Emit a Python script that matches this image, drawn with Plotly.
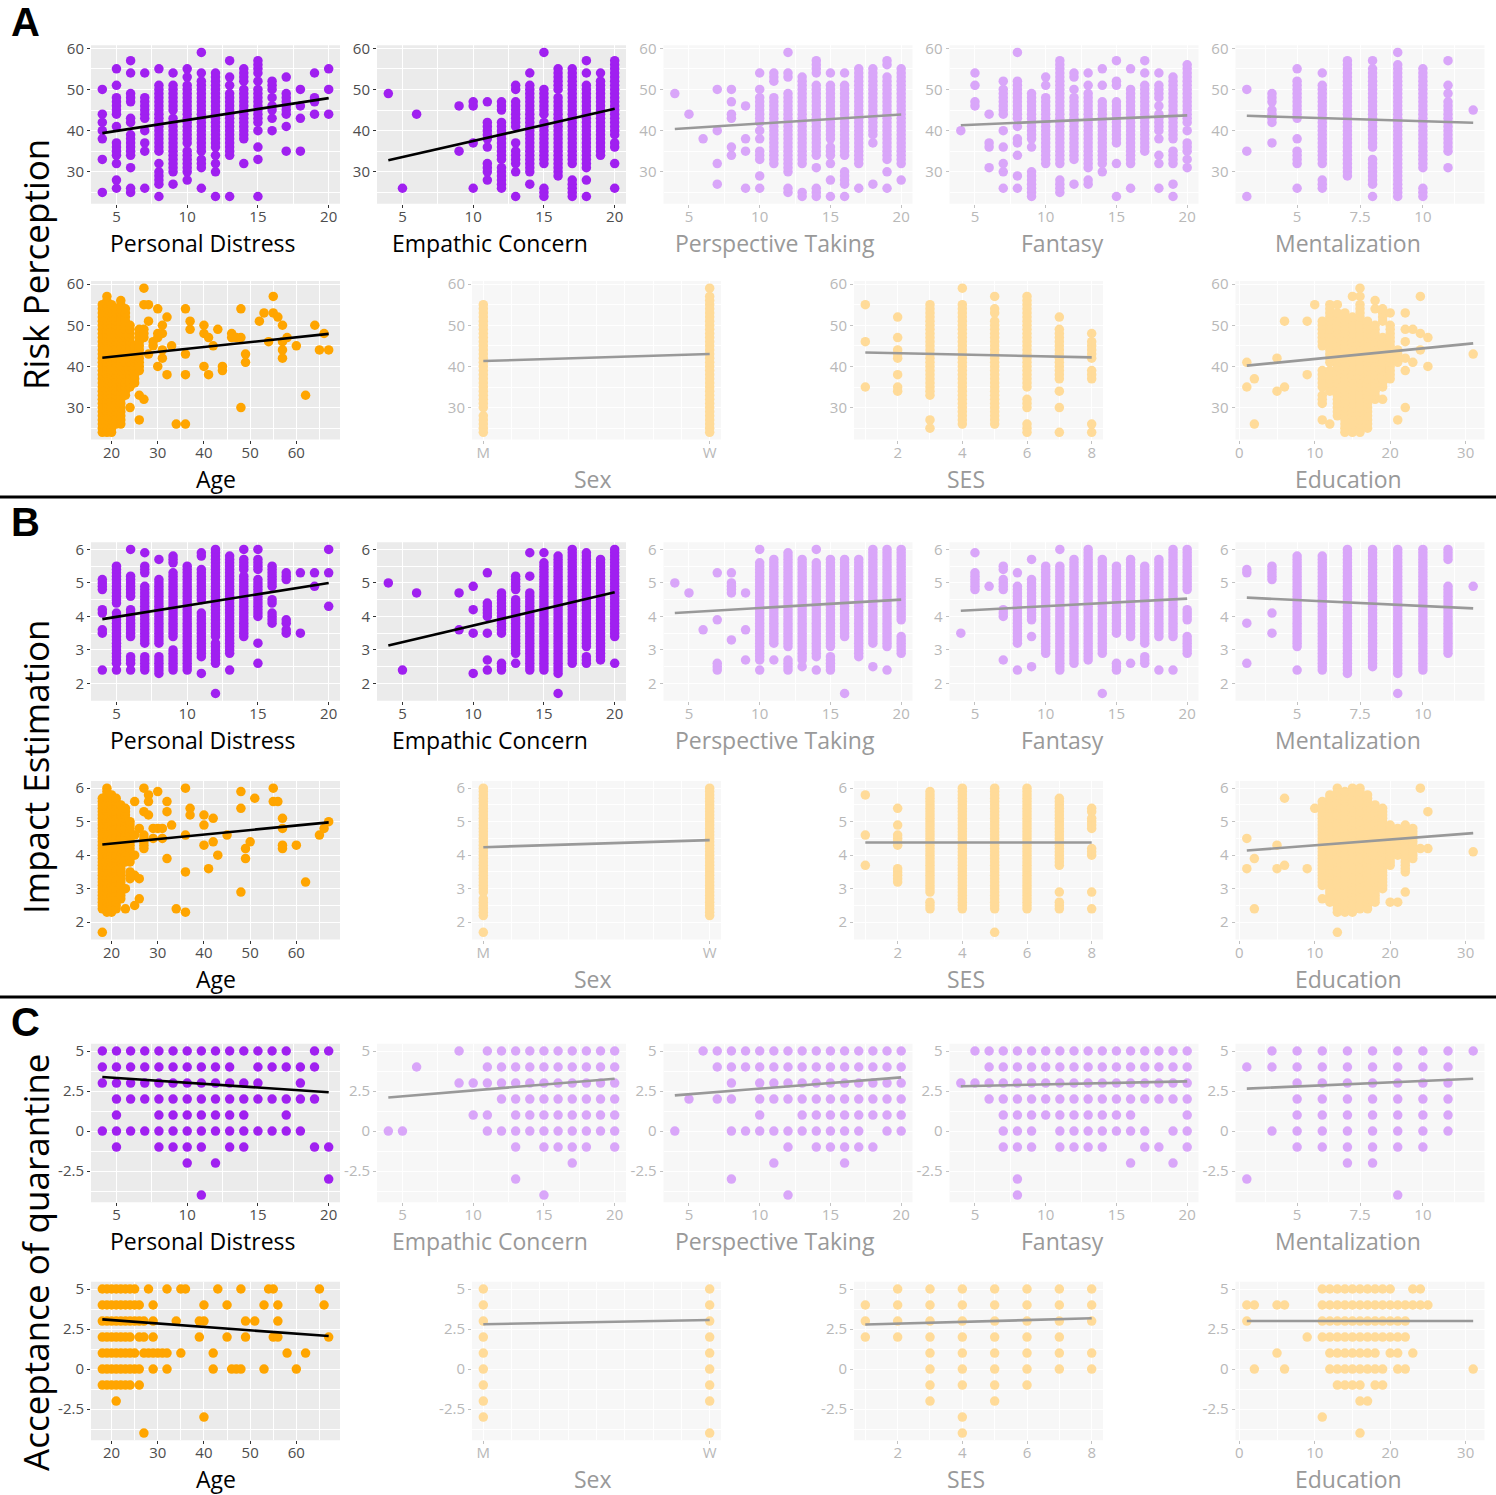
import numpy as np
import plotly.graph_objects as go

W, H = 1496, 1495

# ---------------- labels ----------------
OUTCOMES = ["Risk Perception", "Impact Estimation", "Acceptance of quarantine"]
SECTION_LETTERS = ["A", "B", "C"]
ROW1_VARS = ["Personal Distress", "Empathic Concern", "Perspective Taking", "Fantasy", "Mentalization"]
ROW2_VARS = ["Age", "Sex", "SES", "Education"]
SEX_LABELS = ["M", "W"]

# ---------------- data ----------------
# column format  "x:y,y1-y2;..." (y1-y2 = every observed value in that run)
RP_PD = "4:25,33,38,40,42,44,50;5:26,28,32,34-37,41,44-48,51,55;6:25-26,31,34-39,42-43,47-49,54,57;7:26,35,37,40,43-48,54;8:24,27-30,32,35-51,55;9:27,30-43,45-51,54;10:28,30-35,37-51,53,55;11:26,31-33,35-52,54,59;12:24,30,32,34,36-54;13:24,34-49,51,53,57;14:32,38-50,52-55;15:24,33,36,40,42-50,52,54-57;16:40,43,45-46,48,50-52;17:35,41,44-49,53;18:35,43,46,50;19:44,47-48,54;20:44,50,55"
RP_EC = "4:49;5:26;6:44;9:35,46;10:26,37,46-47;11:28,30-32,36,38-42,47;12:26-31,33-42,45-47;13:24,30,32-35,37,41-47,50-51;14:27,30-51,54;15:24-26,32-42,44-50,59;16:29-48,50-55;17:24-28,32-55;18:24,28,31-51,54,57;19:34-52,54;20:26,32,36-37,39-57"
RP_PT = "4:49;5:44;6:38;7:27,32,40,50;8:34,36,43-44,47,50;9:26,35,38,46;10:26,29,33-35,38,40,42-48,50,54;11:32-48,52-54;12:25-26,30-49,53-54,59;13:24-25,32-53;14:24-26,31,34-51,54-57;15:24,28,32,34-36,38-51,54;16:24,27-30,34-51,54;17:26,32-55;18:27,37,39-55;19:26,30,33-53,56-57;20:28,32-55"
RP_FA = "4:40;5:46-47,51,54;6:31,36-37,44;7:26,30,32,36,40,44-50,52;8:26,29,34,37-38,41,43-52,59;9:24-30,36,38-49;10:32-48,51,53;11:25-28,32-57;12:27,33-48,50,53-54;13:27-28,31-49,51,54;14:30,32-47,51,55;15:24,32,37-47,51-52,57;16:26,32-50,55;17:35-51,54,57;18:26,32,34,38,40-44,46,48-51,54;19:24,27,32-35,38-53;20:31,33,35-37,40,42-56"
RP_ME = "3:24,35,50;4:37,42-45,47-49;5:26,32-35,38,43-52,55;6:26-28,32-51,54;7:29-57;8:24,27-33,36-55,57;9:24-56,59;10:24-26,31-55;11:31,35-47,49,51,57;12:45"
RP_AGE = "18:24-55;19:24-57;20:24-55;21:26-54;22:26-56;23:33-54;24:30,35-50;25:36-45;26:27,33,39-49;27:32,47-49,55,59;28:43,51,55;29:45-46;30:40,47-48,54;31:42,44,48,50;32:38,52;33:45;34:26;36:26,38,43,54;37:49,51;40:40,48,50;41:38,47;42:45;43:49;44:39-40;46:47-48;47:47;48:30,47,54;49:41,43;52:51;53:53;54:46;55:53,57;56:52;57:42,44,46,50;58:47;60:45;62:33;64:50;65:44;66:48;67:44"
RP_SEX = "1:24-28,30-55;2:24-57,59"
RP_SES = "1:35,46,55;2:34-35,38,42-44,47,52;3:25,27,33-55;4:26-55,59;5:26-51,53-54,57;6:24-26,30-32,35-57;7:24,30,34,37-49,52;8:24,26,37-39,42-46,48"
RP_EDU = "1:35,41;2:26,37;5:34,42;6:35,51;9:38,51;10:55;11:27,31-33,35-39,45-51;12:26,34-39,41-55;13:28-53,55;14:24-53;15:24-52,57;16:24-55,57,59;17:25-51;18:32-50,54,56;19:32,35-47,51-54;20:37-50,53;21:27,41-44;22:30,39,42,46,49,53;23:41,49;24:44,48,57;25:40,47;31:43"

IE_PD = "4:2.4,3.5-3.6,4.1-4.2,4.8-5.1;5:2.4,2.6-4.1,4.4-5.5;6:2.4,2.6-2.8,3.4-4.2,4.6-5.2,6.0;7:2.4-2.8,3.2-4.9,5.3-5.5,5.9;8:2.3-2.8,3.2-5.1,5.7;9:2.4-3.0,3.4-5.3,5.6-5.8;10:2.4-5.5;11:2.3,2.8-4.1,4.5-5.4,5.8-5.9;12:1.7,2.6-3.2,3.4-6.0;13:2.4,2.9-5.8;14:3.4-5.2,5.4-5.7,6.0;15:2.6,3.2,4.0-5.1,5.4-5.7,6.0;16:3.8-4.1,4.4-4.5,4.9-5.5;17:3.5-3.6,3.8-3.9,5.1-5.3;18:3.5,5.3;19:4.9,5.3;20:4.3,5.3,6.0"
IE_EC = "4:5.0;5:2.4;6:4.7;9:3.6,4.7;10:2.3,3.5,4.2,4.9;11:2.4,2.7,3.5,4.0-4.4,5.3;12:2.4-2.6,3.5-4.7;13:2.6,2.9-4.5,4.8-5.2;14:2.4-4.7,5.2,5.9;15:2.4-5.6,5.9;16:1.7,2.3-5.8;17:2.6-6.0;18:2.6-2.8,3.1-5.9;19:2.7-5.7;20:2.6,3.4-6.0"
IE_PT = "4:5.0;5:4.7;6:3.6;7:2.4-2.6,3.9,5.3;8:3.3,4.7-5.0,5.3;9:2.7,3.6,4.7;10:2.4,2.7-5.6,6.0;11:2.7,3.2-5.7;12:2.4-2.7,3.1-5.9;13:2.5,2.7-5.7;14:2.4,2.8-5.6,6.0;15:2.4-2.8,3.1-5.7;16:1.7,3.4-5.7;17:2.8-5.7;18:2.5,3.2-6.0;19:2.4,3.1-6.0;20:2.9-3.4,3.9-6.0"
IE_FA = "4:3.5;5:4.8-5.3,5.9;6:4.9;7:2.7,4.0-4.2,4.8-5.1,5.4-5.5;8:2.4,3.2-4.9,5.3;9:2.5,3.4,3.9-5.1,5.7;10:2.9-5.5;11:2.4-5.5,6.0;12:2.6-5.7;13:2.7-6.0;14:1.7,2.9-5.7;15:2.4-2.6,3.5-5.5;16:2.6,3.4-5.7;17:2.6-2.8,3.2-5.5;18:2.4,3.4-5.7;19:2.4,3.4-6.0;20:2.9-3.4,3.9-4.2,4.8-6.0"
IE_ME = "3:2.6,3.8,5.3-5.4;4:3.5,4.1,5.1-5.5;5:2.4,3.1-5.8;6:2.4-5.8;7:2.3-6.0;8:2.5-6.0;9:1.7,2.3-6.0;10:2.4-6.0;11:2.9-4.9,5.7-6.0;12:4.9"
IE_AGE = "18:1.7,2.4-5.7;19:2.3-6.0;20:2.3-5.8;21:2.4-5.7;22:2.7-5.5;23:2.4,3.0,3.8-5.4;24:3.3-3.5,3.8-5.0;25:2.5,3.4,4.0,4.6,5.6;26:2.7,3.3,4.8;27:4.2-4.6,5.3,6.0;28:5.2,5.6,5.8;29:4.5,4.8;30:4.8,5.9;31:4.5,4.8;32:3.9,5.3,5.6;33:4.9;34:2.4;36:2.3,3.5,4.6,6.0;37:5.2,5.4;40:4.3,4.9,5.2;41:3.6;42:4.4,5.1;43:4.0;45:4.6;48:2.9,5.4,5.9;49:3.9,4.2;50:4.4;51:5.7;55:5.6,6.0;56:5.6;57:4.2,4.3,4.8,5.1;60:4.3;62:3.2;65:4.6;66:4.8;67:5.0"
IE_SEX = "1:1.7,2.2-2.7,2.9-6.0;2:2.2-6.0"
IE_SES = "1:3.7,4.6,5.8;2:3.2-3.6,4.3-4.6,4.9,5.4;3:2.4-2.6,2.9-5.9;4:2.4-6.0;5:1.7,2.4-6.0;6:2.4-6.0;7:2.4-2.6,2.9,3.7-5.7;8:2.4,2.9,4.0-4.2,4.8-5.1,5.3-5.4"
IE_EDU = "1:3.6,4.5;2:2.4,3.9;5:3.6,4.3;6:3.7,5.7;9:3.6;10:5.4;11:2.7,3.1-5.6;12:2.6-5.8;13:1.7,2.3-6.0;14:2.3-5.9;15:2.3-6.0;16:2.4-6.0;17:2.4-5.8;18:2.6-5.5;19:3.0-5.4;20:2.6,3.7-4.9;21:2.6,4.0-4.8;22:2.9,3.5-4.9;23:3.9-4.8;24:4.2,6.0;25:4.2,5.3;31:4.1"

# row format  "y:x,x1-x2;..."
AQ_PD = "5:4-17,19-20;4:4-13,15-19;3:4-15,18;2:5-19;1:5,8-14,17;0:4-18;-1:5,8-11,13-14,19-20;-2:10,12;-3:20;-4:11"
AQ_EC = "5:9,11-20;4:6,11-20;3:9-20;2:12-20;1:10-11,13-20;0:4-5,11-20;-1:13,15-18,20;-2:17;-3:13;-4:15"
AQ_PT = "5:6-20;4:7-20;3:8,10-20;2:5,7-8,10-20;1:10,13-20;0:4,8-17,19-20;-1:12,14-18;-2:11,16;-3:8;-4:12"
AQ_FA = "5:5-20;4:6-20;3:4-20;2:6-20;1:7-16,20;0:7-9,11-17,19-20;-1:7-9,11-14,17-18,20;-2:16,19;-3:8;-4:8"
AQ_ME = "5:4-12;4:3-11;3:5-11;2:5-11;1:5-11;0:4-11;-1:5-10;-2:7-8;-3:3;-4:9"
AQ_AGE = "5:18-25,28,32,35-36,43,48,54-55,65;4:18-26,29,40,45,53,56,66;3:18-27,29,34,39-40,49,51,56;2:18-24,26-27,29,39,45,49,55-56,67;1:18-25,27-32,35,42,58,62;0:18-26,29,32,42,46-48,53,60;-1:18-24,26;-2:21;-3:40;-4:27"
AQ_SEX = "5:1-2;4:1-2;3:1-2;2:1-2;1:1-2;0:1-2;-1:1-2;-2:1-2;-3:1;-4:2"
AQ_SES = "5:2-8;4:1-8;3:1-8;2:1-7;1:3-8;0:3-8;-1:3-6;-2:3,5;-3:4;-4:4"
AQ_EDU = "5:11-20,23-24;4:1-2,5-6,11-25;3:1,11-22;2:9,11-22;1:5,12-18,20-21,23;0:2,6,12-19,21-22,31;-1:13-16,18-19;-2:16-17;-3:11;-4:16"

# fitted line values (at min x, at max x), order: ROW1_VARS + ROW2_VARS
RP_FIT_START = [39.4, 32.8, 40.4, 41.3, 43.6, 42.1, 41.3, 43.4, 40.2]
RP_FIT_END = [47.9, 45.3, 43.9, 43.7, 41.9, 47.9, 43.0, 42.2, 45.6]
IE_FIT_START = [3.92, 3.13, 4.10, 4.17, 4.56, 4.32, 4.24, 4.38, 4.14]
IE_FIT_END = [5.00, 4.72, 4.50, 4.53, 4.24, 4.98, 4.45, 4.38, 4.66]
AQ_FIT_START = [3.38, 2.10, 2.23, 2.80, 2.65, 3.10, 2.80, 2.78, 3.00]
AQ_FIT_END = [2.42, 3.27, 3.35, 3.10, 3.27, 2.06, 3.06, 3.17, 3.00]

# which panels are highlighted (others are faded)
ACTIVE = [
    ["Personal Distress", "Empathic Concern", "Age"],
    ["Personal Distress", "Empathic Concern", "Age"],
    ["Personal Distress", "Age"],
]

# y axis settings per outcome
Y_RANGES = [[22.25, 60.75], [1.485, 6.215], [-4.45, 5.45]]
Y_TICKS = [[30, 40, 50, 60], [2, 3, 4, 5, 6], [-2.5, 0, 2.5, 5]]
Y_TICKTEXT = [["30", "40", "50", "60"], ["2", "3", "4", "5", "6"], ["-2.5", "0", "2.5", "5"]]
Y_MINOR = [5, 0.5, 1.25]

X_TICKS = {
    "Personal Distress": ([5, 10, 15, 20], ["5", "10", "15", "20"], 2.5),
    "Empathic Concern": ([5, 10, 15, 20], ["5", "10", "15", "20"], 2.5),
    "Perspective Taking": ([5, 10, 15, 20], ["5", "10", "15", "20"], 2.5),
    "Fantasy": ([5, 10, 15, 20], ["5", "10", "15", "20"], 2.5),
    "Mentalization": ([5, 7.5, 10], ["5", "7.5", "10"], 1.25),
    "Age": ([20, 30, 40, 50, 60], ["20", "30", "40", "50", "60"], 5),
    "Sex": ([1, 2], SEX_LABELS, 0.125),
    "SES": ([2, 4, 6, 8], ["2", "4", "6", "8"], 1),
    "Education": ([0, 10, 20, 30], ["0", "10", "20", "30"], 5),
}
# horizontal offset of axis title centre relative to panel centre (px)
TITLE_DX = {"Personal Distress": -12, "Empathic Concern": -12, "Perspective Taking": -13,
            "Fantasy": -12, "Mentalization": -12, "Age": 0, "Sex": -4, "SES": -12, "Education": -12}

SECTIONS = [
    dict(data=[RP_PD, RP_EC, RP_PT, RP_FA, RP_ME, RP_AGE, RP_SEX, RP_SES, RP_EDU],
         step=1, rows=False, fs=RP_FIT_START, fe=RP_FIT_END),
    dict(data=[IE_PD, IE_EC, IE_PT, IE_FA, IE_ME, IE_AGE, IE_SEX, IE_SES, IE_EDU],
         step=0.1, rows=False, fs=IE_FIT_START, fe=IE_FIT_END),
    dict(data=[AQ_PD, AQ_EC, AQ_PT, AQ_FA, AQ_ME, AQ_AGE, AQ_SEX, AQ_SES, AQ_EDU],
         step=1, rows=True, fs=AQ_FIT_START, fe=AQ_FIT_END),
]

# ---------------- layout geometry (pixels) ----------------
ROW1_X0 = [91, 377, 663.5, 949.5, 1235.5]
ROW2_X0 = [91, 472, 854, 1235.5]
PW, PH = 249, 158.5
ROW_TOPS = [(45.2, 281.0), (542.2, 781.0), (1043.8, 1281.8)]
SEPARATORS = [497, 997]
YTITLE_CENTERS = [265, 767, 1262]
LETTER_Y = [22, 522, 1022]

PURPLE, PURPLE_F = "#A020F0", "#D9A6F9"
ORANGE, ORANGE_F = "#FFA500", "#FFDB99"
BG, BG_F = "#EBEBEB", "#F7F7F7"
TXT, TXT_F = "#4D4D4D", "#B8B8B8"
TICK, TICK_F = "#333333", "#C2C2C2"
TITLE, TITLE_F = "#000000", "#999999"
LINE, LINE_F = "#000000", "#999999"
FONT = "Open Sans"


def expand(tok, step):
    if "-" in tok[1:]:
        i = tok.index("-", 1)
        a, b = float(tok[:i]), float(tok[i + 1:])
        n = int(round((b - a) / step))
        return [round(a + k * step, 3) for k in range(n + 1)]
    return [float(tok)]


def parse(s, step, rows):
    xs, ys = [], []
    for part in s.split(";"):
        key, vals = part.split(":")
        key = float(key)
        for tok in vals.split(","):
            for v in expand(tok, 1 if rows else step):
                if rows:
                    xs.append(v); ys.append(key)
                else:
                    xs.append(key); ys.append(v)
    return xs, ys


def px_x(p):
    return p / W


def px_y(p):
    return 1 - p / H


fig = go.Figure()
layout = dict(width=W, height=H, margin=dict(l=0, r=0, t=0, b=0, pad=0, autoexpand=False),
              paper_bgcolor="white", plot_bgcolor="white", showlegend=False,
              font=dict(family=FONT), shapes=[], annotations=[])

n = 0
for s, sec in enumerate(SECTIONS):
    panels = [(0, c, v) for c, v in enumerate(ROW1_VARS)] + [(1, c, v) for c, v in enumerate(ROW2_VARS)]
    for k, (r, c, var) in enumerate(panels):
        n += 1
        active = var in ACTIVE[s]
        xs, ys = parse(sec["data"][k], sec["step"], sec["rows"])
        xs = np.array(xs); ys = np.array(ys)
        xmin, xmax = xs.min(), xs.max()
        if var == "Sex":
            xr = [0.95, 2.05]
        else:
            pad = 0.05 * (xmax - xmin)
            xr = [xmin - pad, xmax + pad]
        x0 = (ROW1_X0 if r == 0 else ROW2_X0)[c]
        top = ROW_TOPS[s][r]
        xa = "xaxis" if n == 1 else f"xaxis{n}"
        ya = "yaxis" if n == 1 else f"yaxis{n}"
        xref = "x" if n == 1 else f"x{n}"
        yref = "y" if n == 1 else f"y{n}"
        if r == 0:
            col = PURPLE if active else PURPLE_F
        else:
            col = ORANGE if active else ORANGE_F
        fig.add_trace(go.Scatter(x=xs, y=ys, mode="markers", xaxis=xref, yaxis=yref,
                                 marker=dict(size=9.5, color=col, line=dict(width=0)),
                                 hoverinfo="skip"))
        fig.add_trace(go.Scatter(x=[xmin, xmax], y=[sec["fs"][k], sec["fe"][k]], mode="lines",
                                 xaxis=xref, yaxis=yref,
                                 line=dict(color=LINE if active else LINE_F, width=2.6),
                                 hoverinfo="skip"))
        tv, tt, mdt = X_TICKS[var]
        common = dict(showline=False, zeroline=False, ticks="outside", ticklen=3, tickwidth=1,
                      tickcolor=TICK if active else TICK_F, showgrid=True, gridcolor="white",
                      gridwidth=1.2, automargin=False,
                      tickfont=dict(family=FONT, size=15, color=TXT if active else TXT_F))
        layout[xa] = dict(domain=[px_x(x0), px_x(x0 + PW)], range=xr, anchor=yref,
                          tickmode="array", tickvals=tv, ticktext=tt, ticklabelstandoff=-4,
                          minor=dict(dtick=mdt, tick0=0, showgrid=True, gridcolor="white",
                                     gridwidth=0.6, ticks=""),
                          **common)
        layout[ya] = dict(domain=[px_y(top + PH), px_y(top)], range=Y_RANGES[s], anchor=xref,
                          tickmode="array", tickvals=Y_TICKS[s], ticktext=Y_TICKTEXT[s],
                          minor=dict(dtick=Y_MINOR[s], tick0=0, showgrid=True, gridcolor="white",
                                     gridwidth=0.6, ticks=""),
                          **common)
        layout["shapes"].append(dict(type="rect", xref=f"{xref} domain", yref=f"{yref} domain",
                                     x0=0, x1=1, y0=0, y1=1, fillcolor=BG if active else BG_F,
                                     line=dict(width=0), layer="below"))
        layout["annotations"].append(dict(text=var, x=px_x(x0 + PW / 2 + TITLE_DX[var]),
                                          y=px_y(top + PH + 39),
                                          xref="paper", yref="paper", showarrow=False,
                                          xanchor="center", yanchor="middle",
                                          font=dict(family=FONT, size=23,
                                                    color=TITLE if active else TITLE_F)))

    layout["annotations"].append(dict(text=OUTCOMES[s], x=px_x(35), y=px_y(YTITLE_CENTERS[s]),
                                      xref="paper", yref="paper", showarrow=False, textangle=-90,
                                      xanchor="center", yanchor="middle",
                                      font=dict(family=FONT, size=35, color="black")))
    layout["annotations"].append(dict(text=f"<b>{SECTION_LETTERS[s]}</b>", x=px_x(25), y=px_y(LETTER_Y[s]),
                                      xref="paper", yref="paper", showarrow=False,
                                      xanchor="center", yanchor="middle",
                                      font=dict(family="Liberation Sans", size=40, color="black")))

for yy in SEPARATORS:
    layout["shapes"].append(dict(type="line", xref="paper", yref="paper", x0=0, x1=1,
                                 y0=px_y(yy), y1=px_y(yy), line=dict(color="black", width=3)))

fig.update_layout(**layout)
fig.write_html("out.html")
